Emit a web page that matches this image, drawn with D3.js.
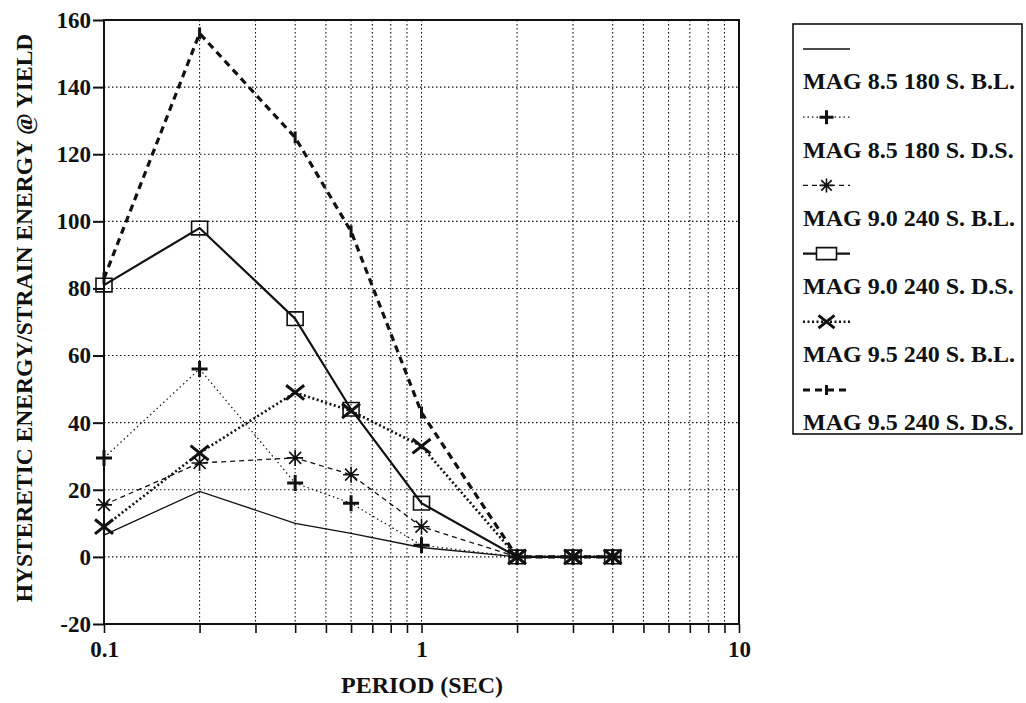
<!DOCTYPE html>
<html>
<head>
<meta charset="utf-8">
<script src="https://cdn.jsdelivr.net/npm/d3@7/dist/d3.min.js"></script>
<style>
  html, body { margin: 0; padding: 0; background: #fff; }
  svg { display: block; }
  text { font-family: "Liberation Serif", "Times New Roman", serif; font-weight: bold; fill: #111; }
</style>
</head>
<body>
<svg id="chart" width="1026" height="703"></svg>
<script>
// Periods (sec) at which each response quantity was evaluated
const periods = [0.1, 0.2, 0.4, 0.6, 1.0, 2.0, 3.0, 4.0];

// Hysteretic energy / strain energy at yield, one array per ground motion case
const mag85_180_BL = [6.5, 19.5, 10, 7, 2.8, 0, 0, 0];
const mag85_180_DS = [29.5, 56, 22, 16, 3.5, 0, 0, 0];
const mag90_240_BL = [15.5, 28, 29.5, 24.5, 9, 0, 0, 0];
const mag90_240_DS = [81, 98, 71, 44, 16, 0, 0, 0];
const mag95_240_BL = [9, 31, 49, 43.5, 33, 0, 0, 0];
const mag95_240_DS = [83, 156, 125, 97, 43, 0, 0, 0];

const seriesNames = [
  "MAG 8.5 180 S. B.L.",
  "MAG 8.5 180 S. D.S.",
  "MAG 9.0 240 S. B.L.",
  "MAG 9.0 240 S. D.S.",
  "MAG 9.5 240 S. B.L.",
  "MAG 9.5 240 S. D.S."
];

const yTicks = [-20, 0, 20, 40, 60, 80, 100, 120, 140, 160];
const xTickLabels = [0.1, 1, 10];
const xTitle = "PERIOD (SEC)";
const yTitle = "HYSTERETIC ENERGY/STRAIN ENERGY @ YIELD";

// Drawing style for each case: stroke, dash pattern and marker shape
const styles = [
  { width: 1.3, dash: null,      marker: "none" },
  { width: 1.2, dash: "1.5,3",   marker: "plus" },
  { width: 1.3, dash: "5,4",     marker: "asterisk" },
  { width: 2.2, dash: null,      marker: "square" },
  { width: 2.6, dash: "2,2.5",   marker: "cross" },
  { width: 3.2, dash: "7,5",     marker: "bar" }
];

const allValues = [mag85_180_BL, mag85_180_DS, mag90_240_BL, mag90_240_DS, mag95_240_BL, mag95_240_DS];
const series = seriesNames.map((name, i) => ({
  name, style: styles[i],
  points: periods.map((p, j) => ({ x: p, y: allValues[i][j] }))
}));

const svg = d3.select("#chart");
const plotL = 104, plotR = 739, plotT = 20, plotB = 624;

const x = d3.scaleLog().domain([0.1, 10]).range([plotL, plotR]);
const y = d3.scaleLinear().domain([-20, 160]).range([plotB, plotT]);

// Minor log positions for the grid and bottom ticks
const logTicks = x.ticks(20);

const g = svg.append("g");

// Dotted grid
g.append("g").selectAll("line")
  .data(logTicks.filter(t => t > 0.1 && t < 10))
  .join("line")
  .attr("x1", d => x(d)).attr("x2", d => x(d))
  .attr("y1", plotT).attr("y2", plotB)
  .attr("stroke", "#111").attr("stroke-width", 1.1)
  .attr("stroke-dasharray", "1.5,2.5");

g.append("g").selectAll("line")
  .data(yTicks.filter(t => t > -20 && t < 160))
  .join("line")
  .attr("x1", plotL).attr("x2", plotR)
  .attr("y1", d => y(d)).attr("y2", d => y(d))
  .attr("stroke", "#111").attr("stroke-width", 1.1)
  .attr("stroke-dasharray", "1.5,2.5");

// Frame
g.append("rect")
  .attr("x", plotL).attr("y", plotT)
  .attr("width", plotR - plotL).attr("height", plotB - plotT)
  .attr("fill", "none").attr("stroke", "#111").attr("stroke-width", 2);

// Left axis: outward ticks and labels (plain hyphen for negatives)
const yAxis = d3.axisLeft(y).tickValues(yTicks).tickSize(11).tickPadding(2).tickFormat(d => String(d));
const ya = g.append("g").attr("transform", `translate(${plotL},0)`).call(yAxis);
ya.select(".domain").remove();
ya.selectAll(".tick line").attr("stroke", "#111").attr("stroke-width", 2);
ya.selectAll(".tick text").attr("font-size", 23).attr("font-family", "Liberation Serif").attr("font-weight", "bold").attr("fill", "#111");

// Bottom axis: ticks at each log position, labels at decades
const xAxis = d3.axisBottom(x).tickValues(logTicks).tickSize(9).tickPadding(8)
  .tickFormat(d => xTickLabels.includes(d) ? String(d) : "");
const xa = g.append("g").attr("transform", `translate(0,${plotB})`).call(xAxis);
xa.select(".domain").remove();
xa.selectAll(".tick line").attr("stroke", "#111").attr("stroke-width", 1.6);
xa.selectAll(".tick text").attr("font-size", 23).attr("font-family", "Liberation Serif").attr("font-weight", "bold").attr("fill", "#111");

// Axis titles
svg.append("text")
  .attr("x", 422).attr("y", 693)
  .attr("text-anchor", "middle").attr("font-size", 24)
  .text(xTitle);

svg.append("text")
  .attr("transform", "translate(32,318) rotate(-90)")
  .attr("text-anchor", "middle").attr("font-size", 23.5)
  .text(yTitle);

// Marker shapes
function markerPath(type, s) {
  switch (type) {
    case "plus":
      return `M${-s},0H${s}M0,${-s}V${s}`;
    case "asterisk": {
      const d = s * 0.75;
      return `M${-s},0H${s}M0,${-s}V${s}M${-d},${-d}L${d},${d}M${-d},${d}L${d},${-d}`;
    }
    case "square":
      return `M${-s},${-s * 0.85}H${s}V${s * 0.85}H${-s}Z`;
    case "cross":
      return `M${-s},${-s * 0.8}L${s},${s * 0.8}M${-s},${s * 0.8}L${s},${-s * 0.8}`;
    case "bar":
      return `M0,${-s}V${s}`;
    default:
      return "";
  }
}
const markerSize = { plus: 8, asterisk: 8, square: 8, cross: 9, bar: 6, none: 0 };
const markerWidth = { plus: 3, asterisk: 1.6, square: 1.6, cross: 3, bar: 3, none: 0 };

const line = d3.line().x(d => x(d.x)).y(d => y(d.y));

const plot = svg.append("g");
series.forEach(s => {
  plot.append("path")
    .datum(s.points)
    .attr("d", line)
    .attr("fill", "none")
    .attr("stroke", "#111")
    .attr("stroke-width", s.style.width)
    .attr("stroke-dasharray", s.style.dash);
});
series.forEach(s => {
  if (s.style.marker === "none") return;
  plot.append("g").selectAll("path")
    .data(s.points)
    .join("path")
    .attr("transform", d => `translate(${x(d.x)},${y(d.y)})`)
    .attr("d", markerPath(s.style.marker, markerSize[s.style.marker]))
    .attr("fill", "none")
    .attr("stroke", "#111")
    .attr("stroke-width", markerWidth[s.style.marker]);
});

// Legend
const lgX = 793, lgY = 24, lgW = 229, lgH = 410;
const legend = svg.append("g");
legend.append("rect")
  .attr("x", lgX).attr("y", lgY).attr("width", lgW).attr("height", lgH)
  .attr("fill", "#fff").attr("stroke", "#111").attr("stroke-width", 1.6);

const rowStep = 68.2;
series.forEach((s, i) => {
  const sy = 49 + i * rowStep;
  const gx0 = 803, gx1 = 850;
  legend.append("line")
    .attr("x1", gx0).attr("x2", gx1).attr("y1", sy).attr("y2", sy)
    .attr("stroke", "#111")
    .attr("stroke-width", s.style.width)
    .attr("stroke-dasharray", s.style.dash);
  if (s.style.marker !== "none") {
    const m = s.style.marker;
    const p = m === "square"
      ? "M-10,-6H10V6H-10Z"
      : markerPath(m, markerSize[m] - 1);
    legend.append("path")
      .attr("transform", `translate(${(gx0 + gx1) / 2},${sy})`)
      .attr("d", p)
      .attr("fill", m === "square" ? "#fff" : "none")
      .attr("stroke", "#111")
      .attr("stroke-width", markerWidth[m]);
  }
  legend.append("text")
    .attr("x", 803).attr("y", sy + 32)
    .attr("dy", "0.35em")
    .attr("font-size", 24)
    .text(s.name);
});
</script>
</body>
</html>
